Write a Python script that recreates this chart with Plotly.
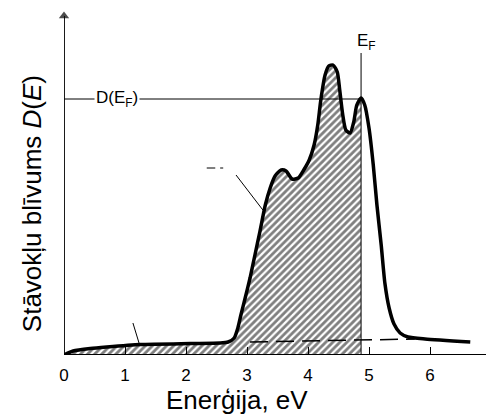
import plotly.graph_objects as go

# ---- data (D in arbitrary units) ----
energy = [0.0, 0.15, 0.43, 0.70, 1.25, 2.07, 2.56, 2.69, 2.79, 2.85, 2.90, 2.97,
          3.05, 3.13, 3.21, 3.30, 3.38, 3.46, 3.56, 3.64, 3.74, 3.84, 3.93, 4.02,
          4.10, 4.16, 4.21, 4.28, 4.34, 4.41, 4.48, 4.52, 4.57, 4.62, 4.69, 4.75,
          4.80, 4.87, 4.93, 5.00, 5.07, 5.13, 5.20, 5.26, 5.33, 5.41, 5.51, 5.64,
          5.92, 6.66]
dos = [0, 4, 6.5, 8, 10.5, 11.5, 12, 13, 17, 27, 40, 57,
       77, 100, 123, 150, 167, 179, 185, 184, 176, 177, 185, 195,
       210, 230, 255, 280, 289, 290, 283, 265, 240, 225, 222, 233,
       250, 257, 250, 227, 190, 150, 110, 72, 47, 31, 22, 18,
       16, 13]

E_fermi = 4.87
D_fermi = 256
ef_line_top = 302

dashed_E = [3.05, 5.0, 5.75]
dashed_D = [13, 15.5, 16]

tick_vals = [0, 1, 2, 3, 4, 5, 6]
tick_text = ["0", "1", "2", "3", "4", "5", "6"]

x_max = 7.0
y_max = 345
y_arrow_top = 342

FONT = "Liberation Sans, Arial, sans-serif"

# filled part (occupied states up to E_F)
occ_E = [e for e in energy if e <= E_fermi]
occ_D = [d for e, d in zip(energy, dos) if e <= E_fermi]

fig = go.Figure()

fig.add_trace(go.Scatter(
    x=occ_E, y=occ_D, mode="lines", line=dict(width=0, color="black", shape="spline", smoothing=0.6),
    fill="tozeroy", fillcolor="white",
    fillpattern=dict(shape="/", fgcolor="black", bgcolor="white", size=5, solidity=0.55),
    hoverinfo="skip", showlegend=False))

# D(E_F) horizontal line
fig.add_trace(go.Scatter(x=[0, E_fermi], y=[D_fermi, D_fermi], mode="lines",
                         line=dict(color="black", width=1), showlegend=False, hoverinfo="skip"))
# E_F vertical line
fig.add_trace(go.Scatter(x=[E_fermi, E_fermi], y=[0, ef_line_top], mode="lines",
                         line=dict(color="black", width=1), showlegend=False, hoverinfo="skip"))
# dashed line
fig.add_trace(go.Scatter(x=dashed_E, y=dashed_D, mode="lines",
                         line=dict(color="black", width=1.5, dash="18px,8px"),
                         showlegend=False, hoverinfo="skip"))
# DOS curve
fig.add_trace(go.Scatter(x=energy, y=dos, mode="lines",
                         line=dict(color="black", width=3.5, shape="spline", smoothing=0.6),
                         showlegend=False, hoverinfo="skip"))

# leader lines
for (x0, y0, x1, y1) in [(2.82, 180, 3.26, 145), (1.13, 32, 1.23, 12),
                         (2.34, 187, 2.48, 187), (2.56, 187, 2.61, 187)]:
    fig.add_trace(go.Scatter(x=[x0, x1], y=[y0, y1], mode="lines",
                             line=dict(color="black", width=1), showlegend=False, hoverinfo="skip"))

# axes with arrowheads
fig.add_trace(go.Scatter(x=[0, x_max - 0.02], y=[0, 0], mode="lines+markers",
                         line=dict(color="black", width=1.8),
                         marker=dict(symbol=["circle", "triangle-right"], size=[0, 9], color="black",
                                     line=dict(width=0)),
                         cliponaxis=False, showlegend=False, hoverinfo="skip"))
fig.add_trace(go.Scatter(x=[0, 0], y=[0, y_arrow_top - 3], mode="lines+markers",
                         line=dict(color="black", width=1.8),
                         marker=dict(symbol=["circle", "triangle-up"], size=[0, 9], color="black",
                                     line=dict(width=0)),
                         cliponaxis=False, showlegend=False, hoverinfo="skip"))

annotations = [
    dict(x=0.87, y=D_fermi, xref="x", yref="y", text="D(E<sub>F</sub>)", showarrow=False,
         bgcolor="white", font=dict(family=FONT, size=17, color="black"), borderpad=1),
    dict(x=E_fermi, y=313, xref="x", yref="y", text="E<sub>F</sub>", showarrow=False,
         xshift=5, font=dict(family=FONT, size=17, color="black")),
    dict(x=6.9, y=-22, xref="x", yref="y", text="E", showarrow=False, yanchor="middle",
         font=dict(family=FONT, size=17, color="black")),
    dict(x=-0.075, y=0.44, xref="paper", yref="paper", text="Stāvokļu blīvums <i>D</i>(<i>E</i>)",
         textangle=-90, showarrow=False, xanchor="center", yanchor="middle",
         font=dict(family=FONT, size=26, color="black")),
    dict(x=0.406, y=-0.13, xref="paper", yref="paper", text="Enerģija, eV",
         showarrow=False, xanchor="center", yanchor="middle",
         font=dict(family=FONT, size=26, color="black")),
]

# page body has an 8px margin, so the figure is 8px smaller and margins shifted
fig.update_layout(
    width=486, height=407,
    margin=dict(l=56, r=3, t=2, b=60),
    plot_bgcolor="white", paper_bgcolor="white",
    showlegend=False,
    annotations=annotations,
    xaxis=dict(range=[0, x_max], showgrid=False, zeroline=False, showline=False,
               tickvals=tick_vals, ticktext=tick_text, ticks="inside", ticklen=8,
               tickwidth=1, tickcolor="black", ticklabelstandoff=8,
               tickfont=dict(family=FONT, size=17, color="black")),
    yaxis=dict(range=[0, y_max], showgrid=False, zeroline=False, showline=False,
               showticklabels=False, ticks=""),
)

fig.write_html("out.html")
